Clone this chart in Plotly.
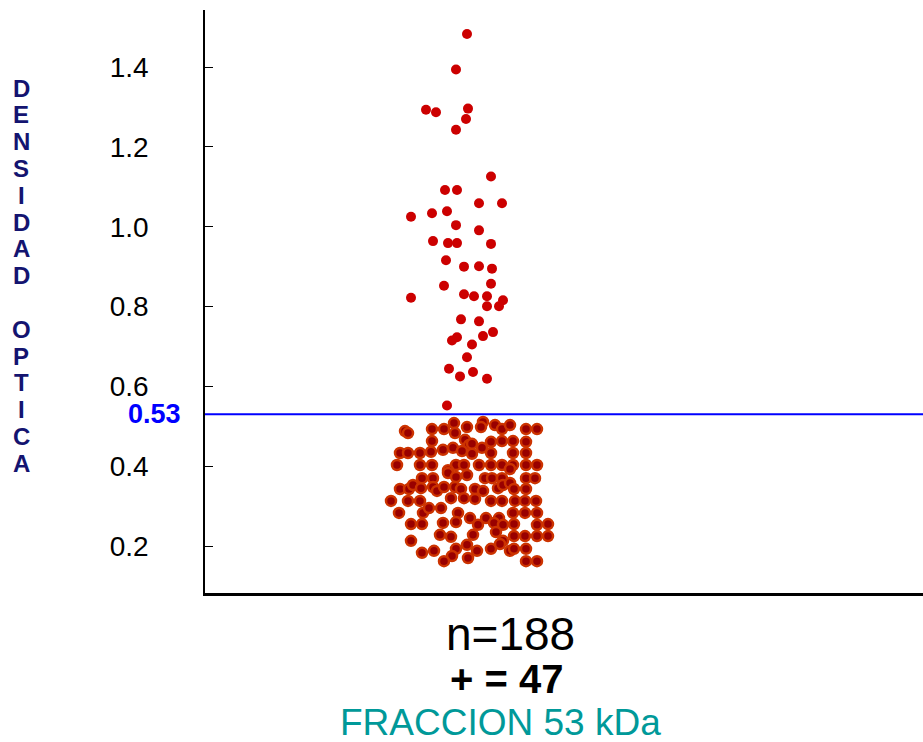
import plotly.graph_objects as go

# ---------------- data ----------------
cutoff = 0.53
n_total = 188
n_positive = 47
group_label = "FRACCION 53 kDa"
y_title = "DENSIDAD OPTICA"
tick_values = [0.2, 0.4, 0.6, 0.8, 1.0, 1.2, 1.4]
tick_labels = ["0.2", "0.4", "0.6", "0.8", "1.0", "1.2", "1.4"]

# positive sera (above cutoff): jitter offset, optical density
pos_x = [0.2, -0.9, -3.9, -2.9, 0.3, 0.1, -0.9, 2.6, -2.0, -0.8, 1.4, 3.7, -5.4, -3.3, -1.8,
         -0.9, 1.4, -3.2, -1.7, -0.8, 2.6, -1.9, -0.1, 1.4, 2.7, -2.1, 2.6, -5.4, -0.1, 0.9,
         2.2, 3.8, 2.2, 3.4, -0.4, 1.4, -0.8, -1.3, 1.8, 2.8, 0.7, 0.2, -1.6, -0.5, 0.8, 2.2, -1.8]
pos_y = [1.483, 1.394, 1.293, 1.287, 1.296, 1.270, 1.243, 1.126, 1.092, 1.092, 1.059, 1.059,
         1.025, 1.034, 1.039, 1.004, 0.991, 0.964, 0.959, 0.959, 0.957, 0.916, 0.900, 0.901,
         0.895, 0.852, 0.857, 0.822, 0.831, 0.826, 0.826, 0.816, 0.801, 0.801, 0.768, 0.763,
         0.723, 0.715, 0.726, 0.736, 0.705, 0.673, 0.644, 0.625, 0.636, 0.619, 0.552]

# negative sera (below cutoff)
neg_x = [-6.0, -5.7, -3.3, -2.1, -1.1, -1.0, 0.2, 0.0, 0.4, -3.3,
         -6.5, -5.7, -4.5, -3.4, -2.2, -1.2, -0.3, 0.7, 0.7, -6.8,
         -4.5, -3.3, -0.9, -0.1, -1.7, 1.8, 1.6, 3.0, 3.7, 4.5,
         6.1, 7.2, 2.6, 3.7, 4.8, 6.1, 1.7, 2.6, 4.8, 6.1,
         1.4, 2.6, 3.7, 4.8, 6.1, 7.2, 4.5, -4.3, -3.2, -1.7,
         -0.9, 0.2, -6.5, -5.6, -5.2, -4.4, -3.2, -2.8, -2.1, -1.0,
         -0.4, 1.0, -7.4, -5.7, -4.5, -1.4, -0.1, 1.0, -6.6, -4.2,
         -3.6, -2.4, -0.7, 0.5, -5.4, -4.3, -2.2, -0.9, 2.0, 2.7,
         3.7, 6.1, 7.0, 1.8, 3.3, 3.8, 4.5, 4.9, 6.1, 2.6,
         3.7, 5.0, 6.0, 7.1, 4.8, 6.0, 7.2, 2.1, 3.4, 8.3,
         -2.5, -1.4, 0.8, -5.4, 0.2, -0.9, -4.3, -3.1, -1.3, -2.1,
         0.3, 1.3, 2.9, 3.8, 4.9, 7.2, 3.1, 4.9, 6.0, 7.2,
         8.3, 1.2, 2.6, 3.8, 3.5, 4.5, 4.9, 6.1, 6.1, 7.2]
neg_y = [0.488, 0.483, 0.493, 0.493, 0.508, 0.483, 0.498, 0.466, 0.453, 0.463,
         0.433, 0.433, 0.433, 0.436, 0.441, 0.446, 0.438, 0.431, 0.456, 0.403,
         0.403, 0.403, 0.403, 0.403, 0.390, 0.511, 0.498, 0.503, 0.493, 0.503,
         0.493, 0.493, 0.461, 0.463, 0.463, 0.461, 0.446, 0.433, 0.433, 0.433,
         0.403, 0.403, 0.403, 0.403, 0.403, 0.403, 0.393, 0.370, 0.370, 0.383,
         0.373, 0.378, 0.343, 0.343, 0.353, 0.345, 0.348, 0.338, 0.348, 0.348,
         0.343, 0.343, 0.313, 0.313, 0.313, 0.320, 0.320, 0.318, 0.283, 0.283,
         0.295, 0.295, 0.283, 0.270, 0.255, 0.255, 0.258, 0.260, 0.370, 0.370,
         0.370, 0.370, 0.370, 0.338, 0.345, 0.353, 0.358, 0.343, 0.343, 0.313,
         0.313, 0.313, 0.313, 0.313, 0.283, 0.283, 0.283, 0.270, 0.270, 0.255,
         0.228, 0.223, 0.228, 0.213, 0.203, 0.193, 0.183, 0.188, 0.175, 0.162,
         0.170, 0.253, 0.258, 0.253, 0.255, 0.253, 0.235, 0.225, 0.225, 0.225,
         0.225, 0.188, 0.193, 0.213, 0.205, 0.188, 0.193, 0.193, 0.162, 0.162]

# ---------------- figure ----------------
FONT = "Liberation Sans, Arial, sans-serif"
W, H = 923, 742
L, R, T, B = 205, 0, 10, 149

fig = go.Figure()

fig.add_trace(go.Scatter(
    x=neg_x, y=neg_y, mode="markers",
    marker=dict(size=10, color="#990000", line=dict(width=2.5, color="#cc3300")),
    hoverinfo="y", showlegend=False))

fig.add_trace(go.Scatter(
    x=pos_x, y=pos_y, mode="markers",
    marker=dict(size=10, color="#cc0000", line=dict(width=0)),
    hoverinfo="y", showlegend=False))

fig.add_shape(type="line", xref="paper", x0=0, x1=1, yref="y", y0=cutoff, y1=cutoff,
              line=dict(color="#0000ff", width=2))

annotations = []
annotations.append(dict(xref="paper", x=0, xanchor="right", xshift=-22,
                        yref="y", y=cutoff, yanchor="middle",
                        text=f"<b>{cutoff:.2f}</b>", showarrow=False,
                        font=dict(family=FONT, size=27, color="#0000ff")))

# vertical stacked y title letters
plot_h = H - T - B
letters = list(y_title)
for i, ch in enumerate(letters):
    if ch == " ":
        continue
    py = 88 + 26.8 * i
    annotations.append(dict(xref="paper", x=(21 - L) / (W - L - R), xanchor="center",
                            yref="paper", y=(H - B - py) / plot_h, yanchor="middle",
                            text=f"<b>{ch}</b>", showarrow=False,
                            font=dict(family=FONT, size=24, color="#141470")))

def bottom_text(txt, px, py, size, color, bold=False):
    t = f"<b>{txt}</b>" if bold else txt
    return dict(xref="paper", x=(px - L) / (W - L - R), xanchor="center",
                yref="paper", y=(H - B - py) / plot_h, yanchor="middle",
                text=t, showarrow=False, font=dict(family=FONT, size=size, color=color))

annotations.append(bottom_text(f"n={n_total}", 510, 634, 46, "#000000"))
annotations.append(bottom_text(f"+ = {n_positive}", 506, 679, 40, "#000000", bold=True))
annotations.append(bottom_text(group_label, 500, 722, 37, "#009999"))

fig.update_layout(
    width=W, height=H,
    margin=dict(l=L, r=R, t=T, b=B, pad=0),
    paper_bgcolor="white", plot_bgcolor="white",
    annotations=annotations,
    xaxis=dict(range=[-26, 45.8], showgrid=False, zeroline=False, showticklabels=False,
               ticks="", showline=True, linecolor="black", linewidth=3, fixedrange=True),
    yaxis=dict(range=[0.0823, 1.5431], showgrid=False, zeroline=False,
               tickvals=tick_values, ticktext=tick_labels,
               ticks="inside", ticklen=8, tickwidth=1, tickcolor="black",
               tickfont=dict(family=FONT, size=28, color="black"),
               ticklabelstandoff=49,
               showline=True, linecolor="black", linewidth=1.5),
)

fig.write_html("out.html", config={"displayModeBar": False},
               post_script="document.body.style.margin='0px';document.body.style.padding='0px';")
